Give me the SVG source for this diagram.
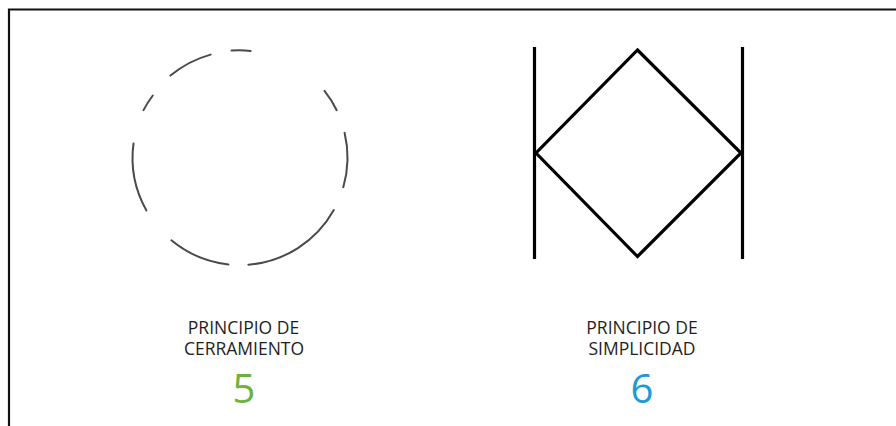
<svg xmlns="http://www.w3.org/2000/svg" width="896" height="426" viewBox="0 0 896 426">
<style>
.frame{fill:none;stroke:#111;stroke-width:2.2}
.arc{fill:none;stroke:#4a4a4a;stroke-width:2;stroke-linecap:round}
.shape{fill:none;stroke:#000;stroke-width:3.2;stroke-linejoin:miter}
.lbl{font-family:"Open Sans","Liberation Sans",sans-serif;font-size:17.5px;fill:#1e1e1e;text-anchor:middle}
.num{font-family:"Open Sans","Liberation Sans",sans-serif;font-size:40px;text-anchor:middle}
</style>
<rect width="896" height="426" fill="#fff"/>
<path class="frame" d="M9,430 V9.5 H900"/>
<g id="cerramiento">
<g class="arc">
<path d="M231.6,50.6 A107.5,107.5 0 0 1 250.6,50.9"/>
<path d="M170.4,75.6 A107.5,107.5 0 0 1 210.6,54.6"/>
<path d="M143.5,110.1 A107.5,107.5 0 0 1 152.8,95.5"/>
<path d="M133.5,143.4 A107.5,107.5 0 0 0 146.4,210.4"/>
<path d="M171.4,240.3 A107.5,107.5 0 0 0 228.4,264.4"/>
<path d="M248.4,264.7 A107.5,107.5 0 0 0 333.8,210.0"/>
<path d="M343.3,187.3 A107.5,107.5 0 0 0 344.6,132.8"/>
<path d="M336.7,110.2 A107.5,107.5 0 0 0 324.5,90.9"/>
</g>
<text class="lbl" x="243.5" y="333.5">PRINCIPIO DE</text>
<text class="lbl" x="244" y="354.5">CERRAMIENTO</text>
<text class="num" x="244" y="403" fill="#6cb33e">5</text>
</g>
<g id="simplicidad">
<line class="shape" x1="534.5" y1="47" x2="534.5" y2="259"/>
<line class="shape" x1="742.5" y1="47" x2="742.5" y2="259"/>
<path class="shape" d="M637.5,50 L741,153 L637.5,256.5 L536,153 Z"/>
<text class="lbl" x="642" y="333.5">PRINCIPIO DE</text>
<text class="lbl" x="642" y="354.5">SIMPLICIDAD</text>
<text class="num" x="642" y="403" fill="#1a9ad8">6</text>
</g>
</svg>
